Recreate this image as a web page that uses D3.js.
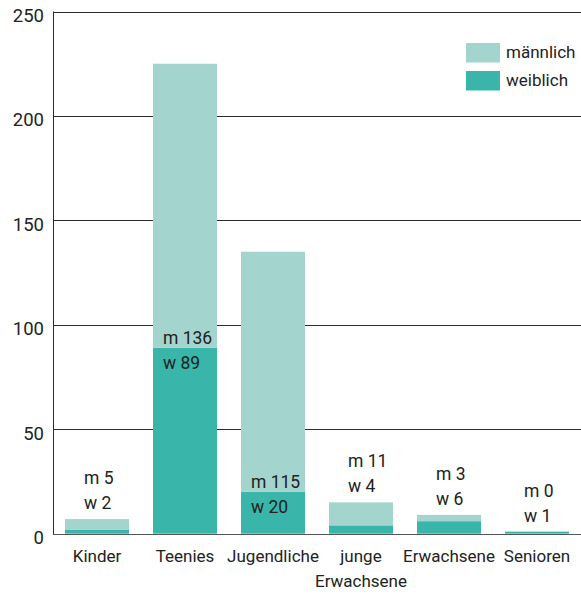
<!DOCTYPE html>
<html>
<head>
<meta charset="utf-8">
<script src="https://cdn.jsdelivr.net/npm/d3@7"></script>
<style>
  html, body { margin: 0; padding: 0; background: #fff; }
  svg text { font-family: Roboto, "Noto Sans", sans-serif; fill: #222; }
</style>
</head>
<body>
<svg id="chart" width="581" height="596"></svg>
<script>
// Besucher nach Altersgruppe und Geschlecht
const categories = ["Kinder", "Teenies", "Jugendliche", "junge Erwachsene", "Erwachsene", "Senioren"];
const categoryLines = [["Kinder"], ["Teenies"], ["Jugendliche"], ["junge", "Erwachsene"], ["Erwachsene"], ["Senioren"]];
const weiblich = [2, 89, 20, 4, 6, 1];
const maennlich = [5, 136, 115, 11, 3, 0];
const yTicks = [0, 50, 100, 150, 200, 250];
const seriesNames = ["männlich", "weiblich"];

const colorM = "#a3d5ce";
const colorW = "#39b5a9";

const svg = d3.select("#chart");
const margin = { left: 53, right: 0, top: 11.5, bottom: 62.3 };
const W = 581, H = 596;

const x = d3.scaleBand()
  .domain(categories)
  .range([margin.left, W - margin.right])
  .paddingInner(24 / 88)
  .paddingOuter(12 / 88);

const y = d3.scaleLinear()
  .domain([0, 250])
  .range([H - margin.bottom, margin.top]);

// horizontal grid lines
svg.append("g")
  .selectAll("line")
  .data(yTicks.filter(d => d > 0))
  .join("line")
  .attr("x1", margin.left)
  .attr("x2", W)
  .attr("y1", d => Math.round(y(d)) + 0.5)
  .attr("y2", d => Math.round(y(d)) + 0.5)
  .attr("stroke", "#2a2a2a")
  .attr("stroke-width", 1);

// y axis labels (sit slightly below their grid line)
const yAxis = d3.axisLeft(y).tickValues(yTicks).tickSize(0).tickPadding(9);
const gy = svg.append("g")
  .attr("transform", `translate(${margin.left},4)`)
  .call(yAxis);
gy.select(".domain").remove();
gy.selectAll("text")
  .attr("font-size", 18.5)
  .attr("font-family", "Roboto, sans-serif")
  .attr("fill", "#222");

// stacked data
const rows = categories.map((c, i) => ({ cat: c, w: weiblich[i], m: maennlich[i] }));
const stack = d3.stack().keys(["w", "m"])(rows);
const colors = { w: colorW, m: colorM };

svg.append("g")
  .selectAll("g")
  .data(stack)
  .join("g")
  .attr("fill", s => colors[s.key])
  .selectAll("rect")
  .data(s => s)
  .join("rect")
  .attr("x", d => x(d.data.cat))
  .attr("width", x.bandwidth())
  .attr("y", d => y(d[1]))
  .attr("height", d => y(d[0]) - y(d[1]));

// axis lines
svg.append("line")
  .attr("x1", margin.left + 0.5).attr("x2", margin.left + 0.5)
  .attr("y1", y(250)).attr("y2", y(0) + 0.5)
  .attr("stroke", "#2a2a2a");
svg.append("line")
  .attr("x1", margin.left).attr("x2", W)
  .attr("y1", Math.round(y(0)) + 0.5).attr("y2", Math.round(y(0)) + 0.5)
  .attr("stroke", "#555");

// value labels: inside the bar when it is tall enough, else above it
const labels = svg.append("g").attr("font-size", 17.5);
rows.forEach(r => {
  const total = r.w + r.m;
  const inside = y(0) - y(total) > 60;
  let tx, yM, yW;
  if (inside) {
    tx = x(r.cat) + 10;
    const top = y(r.w);
    yM = top - 4;
    yW = top + 21;
  } else {
    tx = x(r.cat) + 19;
    yW = y(total) - 10;
    yM = yW - 25;
  }
  labels.append("text").attr("x", tx).attr("y", yM).text("m " + r.m);
  labels.append("text").attr("x", tx).attr("y", yW).text("w " + r.w);
});

// category labels
const cl = svg.append("g").attr("font-size", 17).attr("text-anchor", "middle");
categories.forEach((c, i) => {
  const t = cl.append("text")
    .attr("x", x(c) + x.bandwidth() / 2)
    .attr("y", 562);
  categoryLines[i].forEach((line, j) => {
    t.append("tspan")
      .attr("x", x(c) + x.bandwidth() / 2)
      .attr("dy", j === 0 ? 0 : 24.5)
      .text(line);
  });
});

// legend
const legend = svg.append("g").attr("transform", "translate(466,43)");
const legendColors = [colorM, colorW];
seriesNames.forEach((name, i) => {
  const g = legend.append("g").attr("transform", `translate(0,${i * 28})`);
  g.append("rect").attr("width", 34).attr("height", 19.5).attr("fill", legendColors[i]);
  g.append("text").attr("x", 40).attr("y", 15).attr("font-size", 17).text(name);
});
</script>
</body>
</html>
